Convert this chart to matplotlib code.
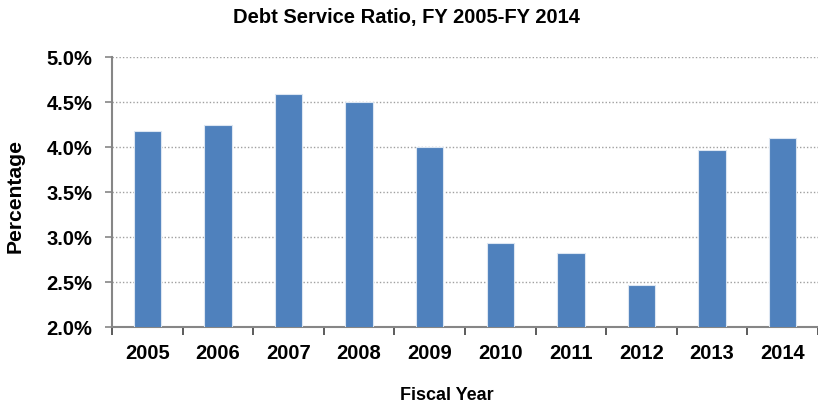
import matplotlib
matplotlib.use("Agg")
import matplotlib.pyplot as plt
from matplotlib.ticker import FuncFormatter, FixedLocator

years = ["2005", "2006", "2007", "2008", "2009", "2010", "2011", "2012", "2013", "2014"]
ratios = [4.18, 4.25, 4.59, 4.50, 4.00, 2.94, 2.83, 2.47, 3.97, 4.10]
yticks = [2.0, 2.5, 3.0, 3.5, 4.0, 4.5, 5.0]

plt.rcParams['font.family'] = ['Liberation Sans', 'DejaVu Sans']
plt.rcParams['font.weight'] = 'bold'

W, H = 818, 409
fig = plt.figure(figsize=(W / 100, H / 100), dpi=100)
ax = fig.add_axes([112 / W, 1 - 327.3 / H, 1 - 112 / W, (327.3 - 57.3) / H])

x = list(range(len(years)))
ax.bar(x, ratios, width=0.39, color="#4F81BD", edgecolor="#DCE6F2", linewidth=0.8, zorder=3)

ax.set_xlim(-0.5, len(years) - 0.5)
ax.set_ylim(2.0, 5.0)
ax.set_yticks(yticks)
ax.yaxis.set_major_formatter(FuncFormatter(lambda v, p: f"{v:.1f}%"))
ax.yaxis.grid(True, linestyle=(0, (1, 1.5)), color="#A0A0A0", linewidth=1.0, zorder=0)

ax.set_xticks(x)
ax.set_xticklabels(years)
ax.xaxis.set_minor_locator(FixedLocator([i - 0.5 for i in range(len(years) + 1)]))
ax.tick_params(axis='x', which='major', length=0, pad=12, labelsize=14.5)
ax.tick_params(axis='x', which='minor', length=6, width=1.2, color="#404040")
ax.tick_params(axis='y', which='major', length=5, width=1.2, color="#868686", labelsize=14.5, pad=9)

for s in ['top', 'right']:
    ax.spines[s].set_visible(False)
ax.spines['left'].set_color("#868686")
ax.spines['left'].set_linewidth(1.5)
ax.spines['bottom'].set_color("#868686")
ax.spines['bottom'].set_linewidth(1.5)

for lbl in ax.get_xticklabels() + ax.get_yticklabels():
    lbl.set_fontweight('bold')

fig.text(406 / W, 1 - 17 / H, "Debt Service Ratio, FY 2005-FY 2014", ha='center', va='center',
         fontsize=14.5, fontweight='bold')
fig.text(15 / W, 1 - 196 / H, "Percentage", ha='center', va='center', rotation=90,
         fontsize=15.2, fontweight='bold')
fig.text(447 / W, 1 - 395 / H, "Fiscal Year", ha='center', va='center',
         fontsize=13, fontweight='bold')

fig.savefig("out.png", dpi=100)
